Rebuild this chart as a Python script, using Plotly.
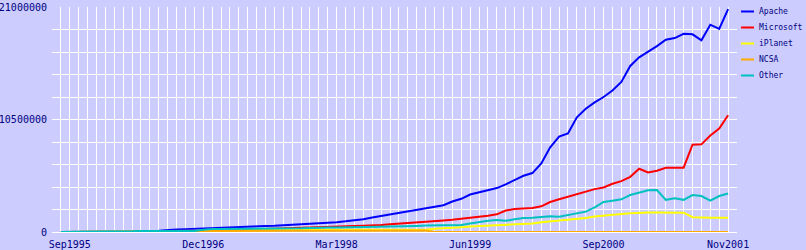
import plotly.graph_objects as go
import pandas as pd

# Monthly survey points, Aug 1995 .. Nov 2001 (76 months)
months = [d.strftime("%b%Y") for d in pd.date_range("1995-08-01", periods=76, freq="MS")]

# values in millions of sites
apache = [0.01, 0.012, 0.015, 0.02, 0.025, 0.03, 0.035, 0.045, 0.055, 0.07,
          0.085, 0.11, 0.19, 0.23, 0.25, 0.29, 0.33, 0.36, 0.39, 0.43,
          0.5, 0.52, 0.54, 0.56, 0.58, 0.62, 0.66, 0.7, 0.76, 0.84,
          0.86, 0.92, 1.0, 1.08, 1.2, 1.35, 1.5, 1.65, 1.78, 1.9,
          2.05, 2.24, 2.4, 2.5, 2.85, 3.1, 3.5, 3.7, 3.95, 4.1,
          4.45, 4.85, 5.25, 5.5, 6.4, 7.9, 8.9, 9.2, 10.7, 11.5,
          12.1, 12.6, 13.2, 14.0, 15.5, 16.3, 16.8, 17.35, 17.95, 18.1,
          18.5, 18.45, 17.9, 19.35, 18.95, 20.8]
microsoft = [0, 0, 0, 0, 0, 0, 0, 0, 0, 0,
             0, 0.005, 0.005, 0.01, 0.03, 0.08, 0.12, 0.15, 0.18, 0.2,
             0.22, 0.24, 0.26, 0.28, 0.3, 0.32, 0.35, 0.4, 0.43, 0.45,
             0.48, 0.5, 0.52, 0.55, 0.58, 0.6, 0.65, 0.72, 0.77, 0.84,
             0.88, 0.95, 1.03, 1.08, 1.15, 1.24, 1.3, 1.43, 1.52, 1.65,
             2.0, 2.15, 2.2, 2.25, 2.4, 2.8, 3.05, 3.28, 3.5, 3.78,
             4.0, 4.15, 4.5, 4.75, 5.15, 5.9, 5.55, 5.72, 6.0, 6.0,
             6.0, 8.15, 8.18, 9.0, 9.65, 10.9]
iplanet = [0, 0, 0, 0, 0, 0, 0, 0, 0.005, 0.01,
           0.04, 0.07, 0.09, 0.1, 0.1, 0.1, 0.1, 0.12, 0.13, 0.14,
           0.15, 0.16, 0.18, 0.2, 0.2, 0.2, 0.2, 0.2, 0.2, 0.2,
           0.2, 0.21, 0.21, 0.21, 0.21, 0.21, 0.22, 0.22, 0.22, 0.22,
           0.22, 0.22, 0.3, 0.33, 0.42, 0.45, 0.52, 0.56, 0.6, 0.66,
           0.72, 0.75, 0.76, 0.8, 0.92, 1.0, 1.06, 1.15, 1.22, 1.3,
           1.45, 1.55, 1.62, 1.68, 1.75, 1.82, 1.82, 1.82, 1.82, 1.82,
           1.8, 1.38, 1.34, 1.34, 1.34, 1.34]
ncsa = [0.01, 0.01, 0.01, 0.01, 0.01, 0.01, 0.01, 0.01, 0.08, 0.08,
        0.08, 0.08, 0.08, 0.08, 0.08, 0.08, 0.1, 0.1, 0.1, 0.1,
        0.1, 0.1, 0.1, 0.14, 0.14, 0.14, 0.14, 0.14, 0.14, 0.14,
        0.14, 0.14, 0.14, 0.14, 0.14, 0.14, 0.14, 0.14, 0.14, 0.14,
        0.14, 0.14, 0, 0, 0, 0, 0, 0, 0, 0,
        0, 0, 0, 0, 0, 0, 0, 0, 0, 0,
        0, 0, 0, 0, 0, 0, 0, 0, 0, 0,
        0, 0, 0, 0, 0, 0]
other = [0.01, 0.01, 0.015, 0.015, 0.02, 0.02, 0.02, 0.03, 0.06, 0.09,
         0.09, 0.09, 0.09, 0.1, 0.1, 0.1, 0.2, 0.28, 0.28, 0.28,
         0.28, 0.29, 0.3, 0.33, 0.33, 0.33, 0.33, 0.34, 0.38, 0.42,
         0.42, 0.42, 0.43, 0.43, 0.45, 0.48, 0.5, 0.52, 0.55, 0.56,
         0.57, 0.6, 0.63, 0.65, 0.65, 0.66, 0.8, 0.95, 1.05, 1.12,
         1.05, 1.18, 1.3, 1.34, 1.38, 1.48, 1.43, 1.58, 1.7, 1.9,
         2.3, 2.8, 2.92, 3.05, 3.45, 3.65, 3.9, 3.92, 3.0, 3.14,
         3.0, 3.45, 3.36, 2.92, 3.36, 3.6]

series_names = ["Apache", "Microsoft", "iPlanet", "NCSA", "Other"]
series_values = [apache, microsoft, iplanet, ncsa, other]
series_colors = ["#0000ff", "#ff0000", "#ffff00", "#ffaa00", "#00c0c0"]

x_labels = ["Sep1995", "Dec1996", "Mar1998", "Jun1999", "Sep2000", "Nov2001"]
y_labels = [0, 10500000, 21000000]
y_max = 21000000
y_step = 2100000

BG = "#ccccff"
TXT = "#000080"
FONT = "DejaVu Sans Mono"

W, H = 806, 250
L, R, T, B = 52, 69, 7, 18
pw, ph = W - L - R, H - T - B

xs = list(range(len(months)))
fig = go.Figure()
for name, vals, col in zip(series_names, series_values, series_colors):
    fig.add_trace(go.Scatter(x=xs, y=[v * 1e6 for v in vals], mode="lines", name=name,
                             line=dict(color=col, width=2), showlegend=False,
                             hoverinfo="skip"))

xtick_vals = list(range(-1, len(months) + 1))
all_month_names = [d.strftime("%b%Y") for d in pd.date_range("1995-07-01", periods=len(xtick_vals), freq="MS")]
xtick_text = [m if m in x_labels else "" for m in all_month_names]

ytick_vals = [i * y_step for i in range(11)]
ytick_text = [str(v) if v in y_labels else "" for v in ytick_vals]

# manual legend (pixel positions converted to paper coords)
def px_x(px):
    return (px - L) / pw

def px_y(py):
    return (H - B - py) / ph

shapes = []
annotations = []
for k, (name, col) in enumerate(zip(series_names, series_colors)):
    yc = 11.5 + 16 * k
    shapes.append(dict(type="line", xref="paper", yref="paper",
                       x0=px_x(741), x1=px_x(754), y0=px_y(yc), y1=px_y(yc),
                       line=dict(color=col, width=2)))
    annotations.append(dict(xref="paper", yref="paper", x=px_x(757), y=px_y(yc),
                            text=name, showarrow=False, xanchor="left", yanchor="middle",
                            font=dict(family=FONT, size=8, color=TXT)))

fig.update_layout(
    width=W, height=H,
    margin=dict(l=L, r=R, t=T, b=B, pad=0, autoexpand=False),
    paper_bgcolor=BG, plot_bgcolor=BG,
    font=dict(family=FONT, size=10, color=TXT),
    shapes=shapes, annotations=annotations,
    xaxis=dict(range=[-1, len(months)], tickmode="array", tickvals=xtick_vals,
               ticktext=xtick_text, showgrid=True, gridcolor="white", gridwidth=1,
               zeroline=False, showline=False, ticks="", tickangle=0,
               ticklabelstandoff=5, automargin=False,
               tickfont=dict(family=FONT, size=10, color=TXT)),
    yaxis=dict(range=[0, y_max], tickmode="array", tickvals=ytick_vals,
               ticktext=ytick_text, showgrid=True, gridcolor="white", gridwidth=1,
               zeroline=True, zerolinecolor="white", zerolinewidth=1,
               showline=False, ticks="", ticklabelstandoff=4, automargin=False,
               tickfont=dict(family=FONT, size=10, color=TXT)),
)

fig.write_html("out.html", config={"displayModeBar": False})
